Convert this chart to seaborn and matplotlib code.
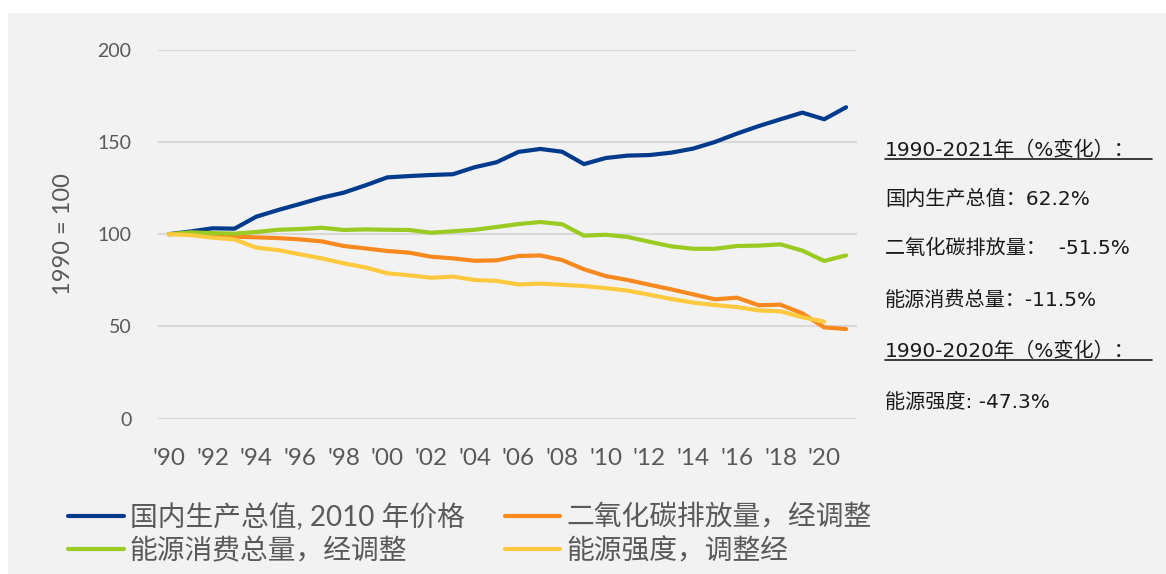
import matplotlib
matplotlib.use("Agg")
import matplotlib.pyplot as plt
import seaborn as sns
import pandas as pd
from matplotlib.patches import Rectangle
from matplotlib.lines import Line2D

# Data (1990 = 100)
years = list(range(1990, 2022))
gdp = [100, 101.5, 103.2, 103.0, 109.5, 113.1, 116.4, 119.8, 122.5, 126.5,
       130.8, 131.5, 132.1, 132.5, 136.3, 139.0, 144.6, 146.2, 144.7, 138.0,
       141.3, 142.6, 142.9, 144.2, 146.4, 150.0, 154.5, 158.6, 162.3, 165.9,
       162.3, 168.8]
co2 = [100, 100.5, 99.4, 98.7, 98.3, 97.9, 97.2, 96.1, 93.6, 92.3,
       90.9, 90.0, 87.8, 86.9, 85.6, 85.8, 88.2, 88.5, 86.0, 81.0,
       77.3, 75.2, 72.6, 70.1, 67.4, 64.7, 65.6, 61.5, 61.8, 57.1,
       49.5, 48.6]
energy = [100, 101.0, 100.6, 100.3, 101.2, 102.4, 102.8, 103.5, 102.3, 102.6,
          102.4, 102.3, 100.8, 101.6, 102.4, 103.9, 105.5, 106.6, 105.4, 99.2,
          99.7, 98.5, 95.9, 93.4, 92.1, 92.1, 93.6, 93.8, 94.5, 91.1,
          85.5, 88.5]
years_int = list(range(1990, 2021))
intensity = [100, 99.5, 98.1, 97.2, 92.7, 91.4, 89.1, 86.9, 84.2, 82.0,
             78.8, 77.7, 76.4, 77.0, 75.2, 74.7, 72.8, 73.2, 72.6, 71.9,
             70.8, 69.4, 67.2, 64.9, 62.9, 61.6, 60.5, 58.7, 58.2, 55.0,
             52.6]

series_names = ["国内生产总值, 2010 年价格", "二氧化碳排放量，经调整",
                "能源消费总量，经调整", "能源强度，调整经"]
colors = ["#003A8C", "#F7891F", "#9BCB22", "#FDC93F"]

xticks = list(range(1990, 2021, 2))
xtick_labels = ["'" + str(y)[2:] for y in xticks]
yticks = [0, 50, 100, 150, 200]

notes = [
    ("1990-2021年（%变化）：", True),
    ("国内生产总值：62.2%", False),
    ("二氧化碳排放量：  -51.5%", False),
    ("能源消费总量：-11.5%", False),
    ("1990-2020年（%变化）：", True),
    ("能源强度: -47.3%", False),
]

df = pd.concat([
    pd.DataFrame({"year": years, "value": gdp, "series": series_names[0]}),
    pd.DataFrame({"year": years, "value": co2, "series": series_names[1]}),
    pd.DataFrame({"year": years, "value": energy, "series": series_names[2]}),
    pd.DataFrame({"year": years_int, "value": intensity, "series": series_names[3]}),
])

sns.set_theme(style="white")
plt.rcParams["font.family"] = ["Lato", "Noto Sans CJK SC", "DejaVu Sans"]

W, H = 1166, 574
fig = plt.figure(figsize=(W / 100, H / 100), dpi=100, facecolor="white")
fig.patches.append(Rectangle((8 / W, 0), 1 - 8 / W, 1 - 13 / H,
                             transform=fig.transFigure, facecolor="#F2F2F2",
                             edgecolor="none", zorder=-10))

ax = fig.add_axes([158 / W, 1 - 418.7 / H, (857 - 158) / W, (418.7 - 49.7) / H])
ax.set_facecolor("none")

sns.lineplot(data=df, x="year", y="value", hue="series", hue_order=series_names,
             palette=colors, linewidth=3, legend=False, ax=ax, zorder=3)

ax.set_xlim(1989.5, 2021.5)
ax.set_ylim(0, 200)
ax.set_yticks(yticks)
ax.set_xticks(xticks)
ax.set_xticklabels(xtick_labels)
ax.grid(axis="y", color="#D9D9D9", linewidth=1.5, zorder=0)
ax.grid(axis="x", visible=False)
for s in ax.spines.values():
    s.set_visible(False)
ax.tick_params(axis="both", length=0, labelcolor="#595959")
ax.tick_params(axis="y", pad=19, labelsize=14)
ax.tick_params(axis="x", pad=21, labelsize=17.5)
ax.set_xlabel("")
ax.set_ylabel("1990 = 100", fontsize=17, color="#595959", labelpad=17)

# legend, row-wise order
handles = [Line2D([], [], color=c, linewidth=3) for c in colors]
order = [0, 2, 1, 3]
fig.legend([handles[i] for i in order], [series_names[i] for i in order],
           ncol=2, loc="upper left", bbox_to_anchor=(57 / W, 1 - 492 / H),
           frameon=False, fontsize=20, labelcolor="#595959",
           handlelength=2.0, handletextpad=0.22, columnspacing=1.45,
           labelspacing=0.25, borderaxespad=0)

# right-hand notes
note_y = [150, 199, 248, 300, 351, 402]
for (txt, underline), y in zip(notes, note_y):
    fig.text(885 / W, 1 - y / H, txt, fontsize=14.5, color="#1A1A1A",
             family=["DejaVu Sans", "Noto Sans CJK SC"], ha="left", va="center")
    if underline:
        fig.add_artist(Line2D([885 / W, 1152 / W], [1 - (y + 9) / H, 1 - (y + 9) / H],
                              transform=fig.transFigure, color="#1A1A1A",
                              linewidth=1.2))

fig.savefig("out.png", dpi=100, facecolor="white")
